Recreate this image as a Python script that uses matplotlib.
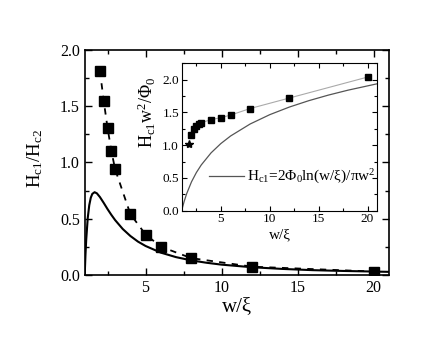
import matplotlib
matplotlib.use("Agg")
import matplotlib.pyplot as plt
from matplotlib.ticker import MultipleLocator

plt.rcParams['font.family'] = ['Liberation Serif', 'DejaVu Serif']
plt.rcParams['mathtext.fontset'] = 'custom'
plt.rcParams['mathtext.rm'] = 'Liberation Serif'
plt.rcParams['mathtext.it'] = 'Liberation Serif'
plt.rcParams['mathtext.default'] = 'rm'

# main panel data: Hc1/Hc2 vs w/xi
w_main = [2.0, 2.25, 2.5, 2.75, 3.0, 4.0, 5.0, 6.0, 8.0, 12.0, 20.0]
h_main = [1.816, 1.547, 1.31, 1.105, 0.94, 0.542, 0.36, 0.252, 0.15, 0.074, 0.031]

# theory curve (main)
w_theory = [1.0, 1.05, 1.1, 1.2, 1.3, 1.4, 1.5, 1.65, 1.8, 2.0, 2.25, 2.5, 2.75, 3.0,
            3.5, 4.0, 4.5, 5.0, 6.0, 7.0, 8.0, 9.0, 10.0, 12.0, 14.0, 16.0, 18.0, 21.0]
h_theory = [0.0, 0.177, 0.315, 0.507, 0.621, 0.687, 0.721, 0.736, 0.726, 0.693, 0.641,
            0.586, 0.535, 0.488, 0.409, 0.347, 0.297, 0.258, 0.199, 0.159, 0.130, 0.109,
            0.092, 0.069, 0.054, 0.043, 0.036, 0.028]

# inset data: Hc1 w^2/Phi0 vs w/xi
w_inset = [2.0, 2.25, 2.5, 2.75, 3.0, 4.0, 5.0, 6.0, 8.0, 12.0, 20.0]
h_inset = [1.155, 1.245, 1.30, 1.33, 1.345, 1.39, 1.42, 1.46, 1.56, 1.72, 2.04]
w_star = [1.78]
h_star = [1.017]

w_inset_theory = [1.0, 1.05, 1.1, 1.25, 1.5, 2.0, 2.5, 3.0, 4.0, 5.0, 6.0, 8.0, 10.0,
                  12.0, 14.0, 16.0, 18.0, 21.0]
h_inset_theory = [0.0, 0.031, 0.061, 0.142, 0.258, 0.441, 0.583, 0.699, 0.883, 1.025,
                  1.141, 1.324, 1.466, 1.582, 1.680, 1.765, 1.840, 1.938]

fig = plt.figure(figsize=(4.4, 3.46), dpi=100)
ax = fig.add_axes([0.1925, 0.2052, 0.6915, 0.6503])
ax.plot(w_theory, h_theory, color='black', lw=1.5)
ax.plot(w_main, h_main, color='black', lw=1.3, ls=(0, (3.5, 3.5)), marker='s', ms=6.5,
        mfc='black', mec='black')
ax.set_xlim(1, 21)
ax.set_ylim(0, 2.0)
ax.xaxis.set_major_locator(MultipleLocator(5))
ax.xaxis.set_minor_locator(MultipleLocator(2.5))
ax.yaxis.set_major_locator(MultipleLocator(0.5))
ax.yaxis.set_minor_locator(MultipleLocator(0.25))
ax.tick_params(which='both', direction='in', top=True, right=True, labelsize=11.5)
ax.tick_params(which='major', length=5, width=1)
ax.tick_params(which='minor', length=3, width=1)
ax.set_xticks([5, 10, 15, 20])
ax.set_yticks([0.0, 0.5, 1.0, 1.5, 2.0])
ax.set_yticklabels(['0.0', '0.5', '1.0', '1.5', '2.0'])
for s in ax.spines.values():
    s.set_linewidth(1.2)
ax.set_xlabel('w/ξ', fontsize=15, labelpad=1)
ax.set_ylabel('H$_{c1}$/H$_{c2}$', fontsize=13.5)
ax.yaxis.set_label_coords(-0.13, 0.52)

ins = fig.add_axes([0.413, 0.391, 0.4445, 0.426])
ins.plot(w_inset_theory, h_inset_theory, color='#555555', lw=0.9,
         label='H$_{c1}$=2Φ$_0$ln(w/ξ)/πw$^2$')
ins.plot(w_inset, h_inset, color='#aaaaaa', lw=0.8, marker='s', ms=5,
         mfc='black', mec='black')
ins.plot(w_star, h_star, ls='none', marker='*', ms=6, color='black')
ins.set_xlim(1, 21)
ins.set_ylim(0, 2.25)
ins.xaxis.set_major_locator(MultipleLocator(5))
ins.xaxis.set_minor_locator(MultipleLocator(2.5))
ins.yaxis.set_major_locator(MultipleLocator(0.5))
ins.yaxis.set_minor_locator(MultipleLocator(0.25))
ins.tick_params(which='both', direction='in', top=True, right=True, labelsize=9.5,
                pad=2)
ins.tick_params(which='major', length=3.5, width=0.8)
ins.tick_params(which='minor', length=2, width=0.8)
ins.set_xticks([5, 10, 15, 20])
ins.set_yticks([0.0, 0.5, 1.0, 1.5, 2.0])
ins.set_yticklabels(['0.0', '0.5', '1.0', '1.5', '2.0'])
for s in ins.spines.values():
    s.set_linewidth(0.8)
ins.set_xlabel('w/ξ', fontsize=11, labelpad=2)
ins.set_ylabel('H$_{c1}$w$^2$/Φ$_0$', fontsize=13)
ins.yaxis.set_label_coords(-0.12, 0.665)
ins.legend(loc='center right', bbox_to_anchor=(0.99, 0.229), frameon=False,
           fontsize=11, handlelength=2.3, handletextpad=0.2, borderaxespad=0,
           borderpad=0)

fig.savefig('out.png', dpi=100)
